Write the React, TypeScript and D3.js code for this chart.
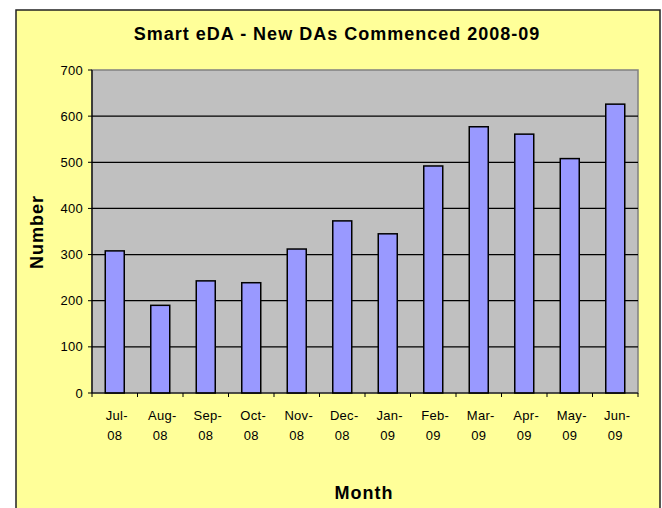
import React from 'react';
import * as d3 from 'd3';

const months = ['Jul-08', 'Aug-08', 'Sep-08', 'Oct-08', 'Nov-08', 'Dec-08', 'Jan-09', 'Feb-09', 'Mar-09', 'Apr-09', 'May-09', 'Jun-09'];
const counts = [308, 190, 243, 239, 312, 373, 345, 492, 577, 561, 508, 626];
const yTicks = [0, 100, 200, 300, 400, 500, 600, 700];

const W = 662;
const H = 508;
const plot = { left: 92, right: 638, top: 70, bottom: 393 };
const font = '"Liberation Sans", Arial, sans-serif';

const App = () => {
    const x = d3.scaleBand<string>().domain(months).range([plot.left, plot.right]);
    const y = d3.scaleLinear().domain([0, 700]).range([plot.bottom, plot.top]);
    const barW = 19;

    return (
        <svg width={W} height={H} style={{ position: 'fixed', left: 0, top: 0, background: '#fff' }}>
            {/* chart frame */}
            <rect x={16} y={10} width={644} height={505} fill="#FFFF99" stroke="#222" strokeWidth={1.5} />
            <text x={337} y={40} textAnchor="middle" fontFamily={font} fontWeight="bold" fontSize={18} letterSpacing={1} fill="#000">
                Smart eDA - New DAs Commenced 2008-09
            </text>

            {/* plot area */}
            <rect x={plot.left} y={plot.top} width={plot.right - plot.left} height={plot.bottom - plot.top} fill="#C0C0C0" stroke="#808080" strokeWidth={1.5} />
            {yTicks.filter(t => t > 0 && t < 700).map(t => (
                <line key={t} x1={plot.left} x2={plot.right} y1={y(t)} y2={y(t)} stroke="#000" strokeWidth={1.2} />
            ))}

            {counts.map((v, i) => (
                <rect key={months[i]}
                    x={x(months[i])! + x.bandwidth() / 2 - barW / 2}
                    y={y(v)}
                    width={barW}
                    height={y(0) - y(v)}
                    fill="#9999FF" stroke="#000" strokeWidth={1.5} />
            ))}

            {/* y axis */}
            <line x1={plot.left} x2={plot.left} y1={plot.top} y2={plot.bottom} stroke="#000" strokeWidth={1.2} />
            {yTicks.map(t => (
                <g key={t}>
                    <line x1={plot.left - 4} x2={plot.left} y1={y(t)} y2={y(t)} stroke="#000" />
                    <text x={83} y={y(t) + 4.5} textAnchor="end" fontFamily={font} fontSize={13} letterSpacing={0.3} fill="#000">{t}</text>
                </g>
            ))}

            {/* x axis */}
            <line x1={plot.left} x2={plot.right} y1={plot.bottom} y2={plot.bottom} stroke="#000" strokeWidth={1.2} />
            {[...months.map(m => x(m)!), plot.right].map((px, i) => (
                <line key={i} x1={px} x2={px} y1={plot.bottom} y2={plot.bottom + 4} stroke="#000" />
            ))}
            {months.map(m => {
                const [mon, yr] = m.split('-');
                const cx = x(m)! + x.bandwidth() / 2;
                return (
                    <text key={m} textAnchor="middle" fontFamily={font} fontSize={13} letterSpacing={0.3} fill="#000">
                        <tspan x={cx + 2} y={420}>{mon}-</tspan>
                        <tspan x={cx} y={440}>{yr}</tspan>
                    </text>
                );
            })}

            <text transform="translate(43,232) rotate(-90)" textAnchor="middle" fontFamily={font} fontWeight="bold" fontSize={18} letterSpacing={1} fill="#000">Number</text>
            <text x={364} y={499} textAnchor="middle" fontFamily={font} fontWeight="bold" fontSize={18} letterSpacing={1} fill="#000">Month</text>
        </svg>
    );
};

export default App;
